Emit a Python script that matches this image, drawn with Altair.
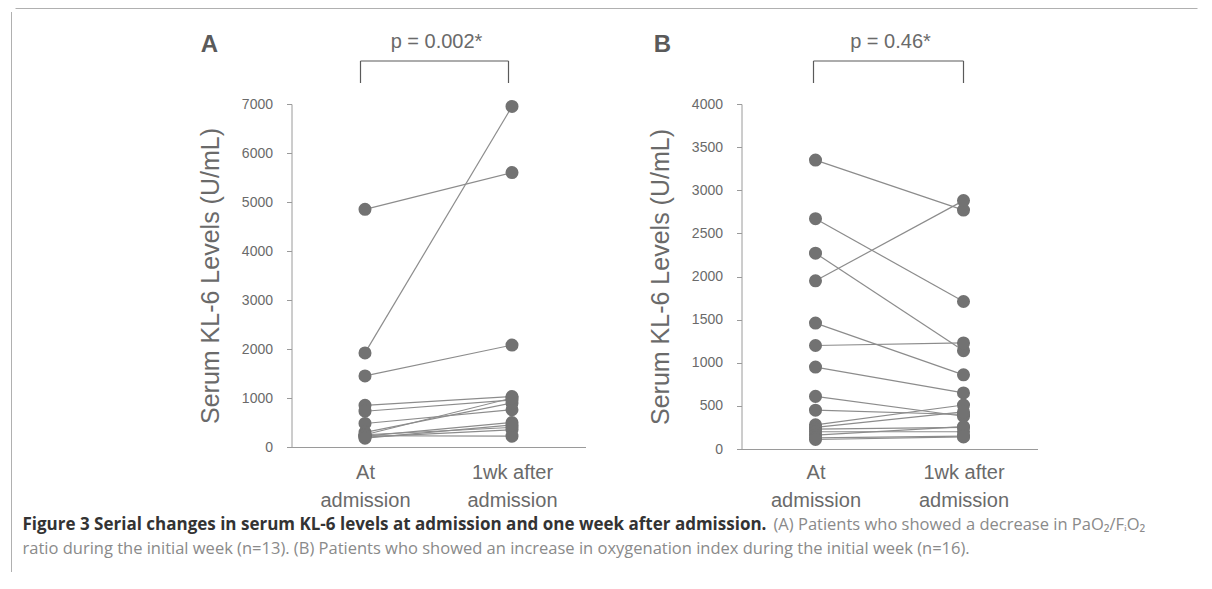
import altair as alt
import pandas as pd

# ---- data -------------------------------------------------------------
times = ["At admission", "1wk after admission"]
x_label_lines = {"At admission": ["At", "admission"],
                 "1wk after admission": ["1wk after", "admission"]}

# Panel A: patients with decreased PaO2/FiO2 (n=13)
a_at = [4850, 1920, 1450, 850, 730, 480, 300, 250, 220, 250, 200, 230, 180]
a_1wk = [5600, 6950, 2080, 1030, 960, 760, 900, 1000, 500, 400, 350, 220, 450]

# Panel B: patients with increased oxygenation index (n=16)
b_at = [3350, 2670, 2270, 1950, 1460, 1200, 950, 610, 450, 280, 250, 230, 200, 160, 130, 110]
b_1wk = [2770, 1710, 1140, 2880, 860, 1230, 650, 380, 400, 510, 430, 250, 200, 260, 150, 140]

a_ticks = [0, 1000, 2000, 3000, 4000, 5000, 6000, 7000]
b_ticks = [0, 500, 1000, 1500, 2000, 2500, 3000, 3500, 4000]

y_title = "Serum KL-6 Levels (U/mL)"
caption_bold = "Figure 3 Serial changes in serum KL-6 levels at admission and one week after admission."
caption_rest1 = "(A) Patients who showed a decrease in PaO\u2082/F\u1d62O\u2082"
caption_line2 = ("ratio during the initial week (n=13). (B) Patients who showed an increase in "
                 "oxygenation index during the initial week (n=16).")


def long_df(at, wk):
    rows = []
    for i, (v0, v1) in enumerate(zip(at, wk)):
        rows.append({"pid": i, "time": times[0], "value": v0})
        rows.append({"pid": i, "time": times[1], "value": v1})
    return pd.DataFrame(rows)


df_a = long_df(a_at, a_1wk)
df_b = long_df(b_at, b_1wk)
one = pd.DataFrame({"k": [0]})

FONT = "Liberation Sans"
CAP_FONT = "Open Sans"
GRAY_TXT = "#6a6a6a"
AXIS_COL = "#9a9a9a"
PT_COL = "#727272"
LINE_COL = "#8c8c8c"

label_expr = " : ".join(
    [f"datum.label == '{k}' ? {v!r}" for k, v in x_label_lines.items()] + ["datum.label"]
)


def panel(df, ymax, ticks, width, height, letter, ptext, leg_l, leg_r, lpad, extra=None):
    base = alt.Chart(df).encode(
        x=alt.X("time:N", sort=times, title=None,
                scale=alt.Scale(type="point", padding=0.5),
                axis=alt.Axis(labelExpr=label_expr, labelAngle=0, labelFontSize=20,
                              labelLineHeight=28, labelColor=GRAY_TXT, labelFont=FONT,
                              labelPadding=lpad, ticks=False, domainColor=AXIS_COL,
                              labelBaseline="top")),
        y=alt.Y("value:Q", scale=alt.Scale(domain=[0, ymax], nice=False),
                axis=alt.Axis(values=ticks, format="d", title=y_title, grid=False,
                              labelFontSize=14, labelColor=GRAY_TXT, labelFont=FONT,
                              labelPadding=14, tickSize=5, tickColor=AXIS_COL,
                              domainColor=AXIS_COL,
                              titleFont=FONT, titleFontSize=25, titleFontWeight="normal",
                              titleColor=GRAY_TXT, titleX=-68, titleY=height / 2,
                              titleAlign="center", titleBaseline="bottom", titleAngle=-90)),
    )
    lines = base.mark_line(color=LINE_COL, strokeWidth=1.2).encode(detail="pid:N")
    pts = base.mark_circle(size=170, color=PT_COL, opacity=1)

    lab = alt.Chart(one).mark_text(text=letter, font=FONT, fontSize=24, fontWeight="bold",
                                   color="#5a5a5a", align="center", baseline="middle").encode(
        x=alt.value(leg_l - 151), y=alt.value(-59))
    pt = alt.Chart(one).mark_text(text=ptext, font=FONT, fontSize=20, color=GRAY_TXT,
                                  align="center", baseline="middle").encode(
        x=alt.value((leg_l + leg_r) / 2 + 2), y=alt.value(-62))
    top = alt.Chart(one).mark_rule(color="#5a5a5a", strokeWidth=1.2).encode(
        x=alt.value(leg_l), x2=alt.value(leg_r), y=alt.value(-43))
    l1 = alt.Chart(one).mark_rule(color="#5a5a5a", strokeWidth=1.2).encode(
        x=alt.value(leg_l), y=alt.value(-43), y2=alt.value(-21))
    l2 = alt.Chart(one).mark_rule(color="#5a5a5a", strokeWidth=1.2).encode(
        x=alt.value(leg_r), y=alt.value(-43), y2=alt.value(-21))
    layers = [lines, pts, lab, pt, top, l1, l2]
    if extra:
        layers += extra
    return alt.layer(*layers).properties(width=width, height=height)


# frame + caption drawn relative to panel A
frame_top = alt.Chart(one).mark_rule(color="#b0b0b0", strokeWidth=1).encode(
    x=alt.value(-276), x2=alt.value(906), y=alt.value(-95.5))
frame_left = alt.Chart(one).mark_rule(color="#b0b0b0", strokeWidth=1).encode(
    x=alt.value(-280), y=alt.value(-92), y2=alt.value(468))
cap1 = alt.Chart(one).mark_text(text=caption_bold, font=CAP_FONT, fontSize=17,
                                fontWeight="bold", color="#333333", align="left",
                                baseline="middle").encode(x=alt.value(-269), y=alt.value(421))
cap1b = alt.Chart(one).mark_text(text=caption_rest1, font=CAP_FONT, fontSize=16.5,
                                 color="#8a8a8a", align="left",
                                 baseline="middle").encode(x=alt.value(482), y=alt.value(421))
cap2 = alt.Chart(one).mark_text(text=caption_line2, font=CAP_FONT, fontSize=16.5,
                                color="#8a8a8a", align="left",
                                baseline="middle").encode(x=alt.value(-269), y=alt.value(445))

pa = panel(df_a, 7000, a_ticks, 294, 343, "A", "p = 0.002*", 69, 217, 15,
           extra=[frame_top, frame_left, cap1, cap1b, cap2])
pb = panel(df_b, 4000, b_ticks, 296, 345, "B", "p = 0.46*", 72, 222, 13)

chart = alt.hconcat(pa, pb, spacing=156, bounds="flush").configure_view(
    stroke=None).properties(padding={"left": 2.5, "top": 0, "right": 2, "bottom": 2})

chart.save("out.html", embed_options={"renderer": "svg", "actions": False})
